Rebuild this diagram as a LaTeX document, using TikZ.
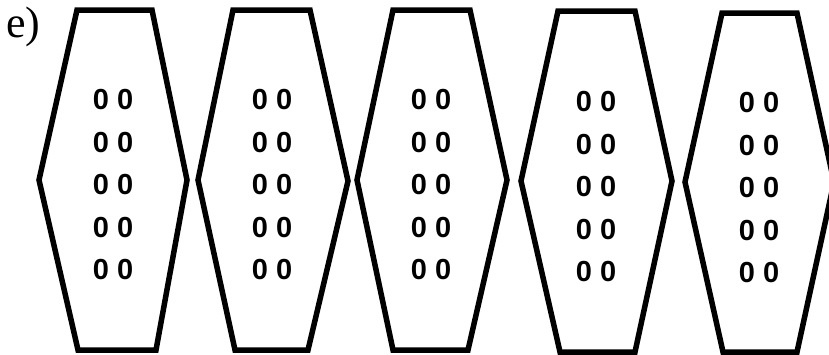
\documentclass[tikz,border=0pt]{standalone}
\usepackage{fontspec}
\setmainfont{Liberation Serif}
\newfontfamily\digitfont{Liberation Sans Bold}
\begin{document}
\begin{tikzpicture}[x=1pt,y=-1pt,
  hex/.style={line width=5.5pt, line join=miter},
  pair/.style={font=\digitfont\fontsize{29}{29}\selectfont, inner sep=0pt},
  lbl/.style={font=\fontsize{44}{44}\selectfont, inner sep=0pt}]
\useasboundingbox (0,0) rectangle (829,354);
\node[lbl, anchor=base west] (label) at (6,37) {e)};
% hexagons
\draw[hex] (77,10) -- (152,10) -- (187,180) -- (156,350) -- (78,350) -- (39,180) -- cycle;
\draw[hex] (233,10) -- (310,10) -- (348,181) -- (308,350) -- (235,350) -- (198,180) -- cycle;
\draw[hex] (393,10) -- (470,10) -- (507,180) -- (468,350) -- (393,350) -- (357,180) -- cycle;
\draw[hex] (558,11) -- (635,11) -- (672,181) -- (635,352) -- (560,352) -- (521,181) -- cycle;
\draw[hex] (722,13) -- (797,13) -- (834,182) -- (797,352) -- (723,352) -- (685,182) -- cycle;
% digit pairs
\foreach \i/\cx/\dy in {1/113/0,2/272/0,3/431/0,4/596/2,5/759/3}{
  \foreach \r/\ry in {1/100,2/143,3/185,4/228,5/270}{
    \node[pair] (p\i\r) at (\cx,\ry+\dy) {0 0};
  }
}
\end{tikzpicture}
\end{document}
